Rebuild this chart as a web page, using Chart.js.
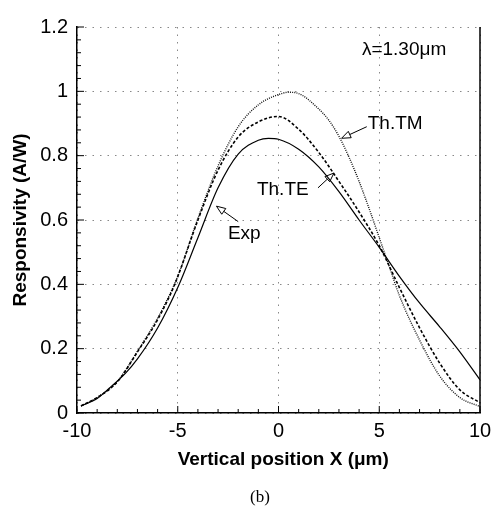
<!DOCTYPE html>
<html>
<head>
<meta charset="utf-8">
<script src="https://cdn.jsdelivr.net/npm/chart.js@4/dist/chart.umd.min.js"></script>
<style>
  html, body { margin: 0; padding: 0; background: #fff; }
  canvas { display: block; }
</style>
</head>
<body>
<canvas id="responsivityChart" width="492" height="508"></canvas>
<script>
// values
const expX = [-9.8, -9, -8.4, -7.6, -7, -6, -5, -4, -3, -2, -1, -0.5, 0, 1, 2, 3, 4, 5, 6, 7, 8, 9, 10];
const expY = [0.022, 0.045, 0.077, 0.123, 0.168, 0.264, 0.39, 0.545, 0.7, 0.805, 0.848, 0.854, 0.851, 0.82, 0.765, 0.688, 0.6, 0.515, 0.425, 0.342, 0.268, 0.19, 0.103];

const teX = [-9.8, -9, -8, -7, -6, -5.15, -4, -3, -2, -1, 0, 1, 2, 3, 4, 5, 6, 7, 8, 9, 10];
const teY = [0.022, 0.048, 0.097, 0.19, 0.29, 0.4, 0.6, 0.755, 0.858, 0.905, 0.922, 0.882, 0.81, 0.72, 0.625, 0.52, 0.39, 0.265, 0.155, 0.072, 0.032];

const tmX = [-9.8, -9, -8, -7, -6, -5, -4, -3, -2, -1, 0, 0.5, 1, 2, 2.5, 3, 3.5, 4, 4.5, 5, 5.5, 6, 7, 8, 9, 10];
const tmY = [0.022, 0.048, 0.098, 0.192, 0.295, 0.425, 0.605, 0.768, 0.89, 0.958, 0.99, 0.997, 0.993, 0.945, 0.91, 0.86, 0.795, 0.72, 0.635, 0.545, 0.455, 0.365, 0.227, 0.115, 0.048, 0.02];

const xTicks = [-10, -5, 0, 5, 10];
const yTicks = [0, 0.2, 0.4, 0.6, 0.8, 1, 1.2];

const toPoints = (xs, ys) => xs.map((x, i) => ({ x: x, y: ys[i] }));

// text labels and arrows, in data units
const notes = [
  { text: "\u03bb=1.30\u03bcm", x: 4.14, y: 1.128 },
  { text: "Th.TM", x: 4.43, y: 0.9 },
  { text: "Th.TE", x: -1.07, y: 0.693 },
  { text: "Exp", x: -2.51, y: 0.558 }
];
const arrows = [
  { from: [4.38, 0.89], to: [3.13, 0.854] },
  { from: [1.96, 0.7], to: [2.75, 0.746] },
  { from: [-2.0, 0.595], to: [-3.08, 0.643] }
];

const extras = {
  id: "extras",
  afterDraw(chart) {
    const ctx = chart.ctx;
    const sx = chart.scales.x;
    const sy = chart.scales.y;
    ctx.save();
    ctx.strokeStyle = "#000";
    ctx.lineWidth = 1.5;
    ctx.beginPath();
    ctx.moveTo(sx.right, sy.top);
    ctx.lineTo(sx.right, sy.bottom);
    ctx.stroke();

    // inward ticks
    ctx.lineWidth = 1;
    ctx.beginPath();
    for (let v = -10; v <= 10; v++) {
      const px = sx.getPixelForValue(v);
      const len = v % 5 === 0 ? 7 : 4;
      ctx.moveTo(px, sy.bottom);
      ctx.lineTo(px, sy.bottom - len);
    }
    for (let i = 0; i <= 30; i++) {
      const py = sy.getPixelForValue(i * 0.04);
      const len = i % 5 === 0 ? 7 : 4;
      ctx.moveTo(sx.left, py);
      ctx.lineTo(sx.left + len, py);
    }
    ctx.stroke();

    ctx.fillStyle = "#000";
    ctx.font = "19px 'Liberation Sans', Arial, sans-serif";
    ctx.textBaseline = "middle";
    ctx.textAlign = "left";
    notes.forEach(n => {
      ctx.fillText(n.text, sx.getPixelForValue(n.x), sy.getPixelForValue(n.y));
    });

    arrows.forEach(a => {
      const x1 = sx.getPixelForValue(a.from[0]), y1 = sy.getPixelForValue(a.from[1]);
      const x2 = sx.getPixelForValue(a.to[0]), y2 = sy.getPixelForValue(a.to[1]);
      const ang = Math.atan2(y2 - y1, x2 - x1);
      const hl = 9, hw = 3.5;
      const bx = x2 - hl * Math.cos(ang), by = y2 - hl * Math.sin(ang);
      ctx.lineWidth = 1;
      ctx.beginPath();
      ctx.moveTo(x1, y1);
      ctx.lineTo(bx, by);
      ctx.stroke();
      ctx.beginPath();
      ctx.moveTo(x2, y2);
      ctx.lineTo(bx + hw * Math.sin(ang), by - hw * Math.cos(ang));
      ctx.lineTo(bx - hw * Math.sin(ang), by + hw * Math.cos(ang));
      ctx.closePath();
      ctx.stroke();
    });

    ctx.font = "17px 'Liberation Serif', 'Times New Roman', serif";
    ctx.textAlign = "center";
    ctx.fillText("(b)", 260, 498);
    ctx.restore();
  }
};

const lineStyle = {
  fill: false,
  pointRadius: 0,
  cubicInterpolationMode: "monotone",
  borderColor: "#000"
};

new Chart(document.getElementById("responsivityChart"), {
  type: "line",
  data: {
    datasets: [
      Object.assign({ label: "Exp", data: toPoints(expX, expY), borderWidth: 1.2 }, lineStyle),
      Object.assign({ label: "Th.TE", data: toPoints(teX, teY), borderWidth: 1.6, borderDash: [3, 2] }, lineStyle),
      Object.assign({ label: "Th.TM", data: toPoints(tmX, tmY), borderWidth: 1.4, borderDash: [1, 1.2] }, lineStyle, { borderColor: "#111" })
    ]
  },
  options: {
    responsive: false,
    animation: false,
    devicePixelRatio: 1,
    layout: { padding: { top: 27, right: 12, left: 0, bottom: 0 } },
    plugins: { legend: { display: false }, tooltip: { enabled: false } },
    scales: {
      x: {
        type: "linear",
        min: -10,
        max: 10,
        afterFit: scale => { scale.height = 95; scale.paddingRight = 0; scale.paddingLeft = 0; },
        afterBuildTicks: scale => { scale.ticks = xTicks.map(v => ({ value: v })); },
        ticks: { color: "#000", padding: 6, maxRotation: 0, font: { size: 20, family: "'Liberation Sans', Arial, sans-serif" } },
        grid: { color: "#888", drawTicks: false, lineWidth: 1 },
        border: { color: "#000", width: 1.5, dash: [1.5, 6] },
        title: {
          display: true,
          text: "\u2002Vertical position X (\u03bcm)",
          color: "#000",
          padding: { top: 0, bottom: 37 },
          font: { size: 19, weight: "bold", family: "'Liberation Sans', Arial, sans-serif" }
        }
      },
      y: {
        type: "linear",
        min: 0,
        max: 1.2,
        afterFit: scale => { scale.width = 77; },
        afterBuildTicks: scale => { scale.ticks = yTicks.map(v => ({ value: v })); },
        ticks: {
          color: "#000",
          padding: 9,
          font: { size: 20, family: "'Liberation Sans', Arial, sans-serif" },
          callback: v => String(+v.toFixed(2))
        },
        grid: { color: "#888", drawTicks: false, lineWidth: 1 },
        border: { color: "#000", width: 1.5, dash: [1.5, 6] },
        title: {
          display: true,
          text: "Responsivity (A/W)",
          color: "#000",
          padding: { top: 9, bottom: 0 },
          font: { size: 19, weight: "bold", family: "'Liberation Sans', Arial, sans-serif" }
        }
      }
    }
  },
  plugins: [extras]
});
</script>
</body>
</html>
